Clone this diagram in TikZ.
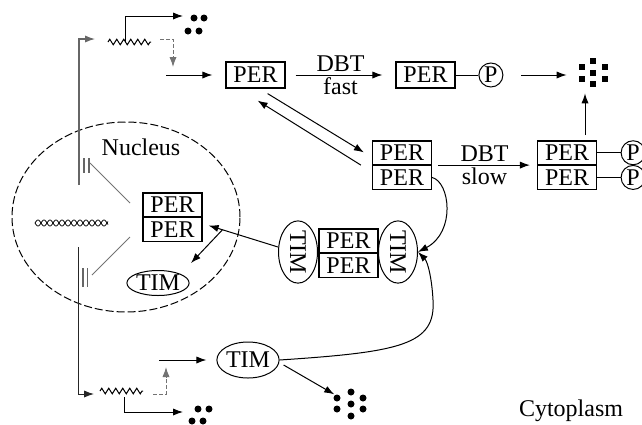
\documentclass[tikz,border=0pt]{standalone}
\usepackage{fontspec}
\setmainfont{Liberation Serif}
\usetikzlibrary{arrows.meta,shapes.geometric,decorations.pathmorphing,positioning}

\tikzset{
  arr/.style={-{Latex[length=5pt,width=3.6pt]}, line width=0.5pt},
  perbox/.style={draw, line width=0.6pt, inner sep=0pt, minimum width=29.5pt, minimum height=13pt},
  perhalf/.style={perbox, minimum height=11.75pt},
  timoval/.style={draw, ellipse, line width=0.5pt, inner sep=0pt},
  pcirc/.style={draw, circle, line width=0.5pt, inner sep=0pt, minimum size=12pt},
  gene/.style={black!60, line width=0.6pt},
  mrna/.style={decorate, decoration={zigzag, segment length=3.5pt, amplitude=1.4pt}, line width=0.5pt},
  transl/.style={black!55, dash pattern=on 2pt off 1pt, line width=0.5pt},
}

\begin{document}
\begin{tikzpicture}[x=0.5pt, y=-0.5pt, font=\fontsize{12}{14}\selectfont]
        \useasboundingbox (0,0) rectangle (642,424);

        % nucleus
            \node[draw, ellipse, dash pattern=on 4pt off 1.5pt, line width=0.5pt, inner sep=0pt,
                  minimum width=114pt, minimum height=95pt] (nucleus) at (126,217) {};
            \node (nuclabel) at (141,147) {Nucleus};
            \node (cytolabel) at (571,411) {Cytoplasm};

        % dna
            \draw[line width=0.4pt] plot[domain=35:108, samples=200] (\x,{223+3*sin(30*(\x-35))});
            \draw[line width=0.4pt] plot[domain=35:108, samples=200] (\x,{223-3*sin(30*(\x-35))});

        % per gene (top) and tim gene (bottom)
            \coordinate (gup) at (79,185);
            \coordinate (gdown) at (78,247);
            \coordinate (zt0) at (95,39);
            \coordinate (zb0) at (94,394);
            \draw[arr, gene] (gup) |- (zt0);
            \draw[arr, black!85] (gdown) |- (zb0);

        % repression by PER dimer
            \draw[gene] (84,158) -- (84,173) (89,158) -- (89,173);
            \draw[gene] (83,268) -- (83,287) (87.5,268) -- (87.5,287);
            \coordinate (rt1) at (90,163);
            \coordinate (rt2) at (130,203);
            \coordinate (rb1) at (92,275);
            \coordinate (rb2) at (130,237);
            \draw[black!55, line width=0.4pt] (rt1) -- (rt2);
            \draw[black!55, line width=0.4pt] (rb1) -- (rb2);

        % mRNAs
            \coordinate (zt1) at (108,42);
            \coordinate (zt2) at (151,42);
            \coordinate (zb1) at (100,391);
            \coordinate (zb2) at (143,391);
            \draw[mrna] (zt1) -- (zt2);
            \draw[mrna] (zb1) -- (zb2);

        % proteins
            \node[perbox] (perA) at (255.5,75) {PER};
            \node[perbox] (perB) at (425.5,75) {PER};
            \node[pcirc, right=11.4pt of perB] (pA) {P};

            \node[perhalf] (midT) at (402,152.75) {PER};
            \node[perhalf, below=0pt of midT] (midB) {PER};

            \node[perhalf] (pdT) at (567,152.75) {PER};
            \node[perhalf, below=0pt of pdT] (pdB) {PER};
            \node[pcirc, right=11.75pt of pdT] (pB) {P};
            \node[pcirc, right=11.75pt of pdB] (pC) {P};

            \node[perhalf] (cxT) at (348.5,240.75) {PER};
            \node[perhalf, below=0pt of cxT] (cxB) {PER};
            \node[timoval, rotate=-90, minimum width=29.5pt, minimum height=19.5pt] (timL) at (298,252) {TIM};
            \node[timoval, rotate=-90, minimum width=29.5pt, minimum height=19.5pt] (timR) at (398,252) {TIM};

            \node[perhalf] (nT) at (172.5,204.75) {PER};
            \node[perhalf, below=0pt of nT] (nB) {PER};
            \node[timoval, minimum width=30pt, minimum height=12.5pt] (timN) at (158,283) {TIM};

            \node[timoval, minimum width=30pt, minimum height=18pt] (timLow) at (248,360) {TIM};

        % degradation products
            \node[inner sep=0pt, minimum width=26pt, minimum height=20.5pt] (sqdeg) at (593,72.5) {};
            \node[circle, inner sep=0pt, minimum size=19pt] (cdeg) at (351,404) {};
            \foreach \x/\y in {593/61,582/67,605/67,593/72.5,582/79,605/79,593/84}
                \fill (\x-3,\y-3) rectangle (\x+3,\y+3);
            \foreach \x/\y in {351/392,337/398,363/398,351/404,337/409,363/409,351/416}
                \fill (\x,\y) circle (1.75pt);
            \foreach \x/\y in {194/18,204/18,188/31,199/31,198/409,209/409,192/421,203/421}
                \fill (\x,\y) circle (1.75pt);

        % translation and mRNA decay
            \coordinate (zt3) at (125,42);
            \coordinate (dtop) at (183,16);
            \coordinate (zt4) at (160,39);
            \coordinate (ptop) at (173,67);
            \coordinate (ts) at (166,75);
            \draw[arr] (zt3) |- (dtop);
            \draw[arr, transl] (zt4) -| (ptop);
            \draw[arr, shorten >=6.5pt] (ts) -- (perA.west);

            \coordinate (zb3) at (124,397);
            \coordinate (dbot) at (183,412);
            \coordinate (zb4) at (153,394);
            \coordinate (pbot) at (166,367);
            \coordinate (ls) at (159,360);
            \draw[arr] (zb3) |- (dbot);
            \draw[arr, transl] (zb4) -| (pbot);
            \draw[arr, shorten >=5pt] (ls) -- (timLow.west);

        % phosphorylation
            \draw[arr, shorten <=5pt, shorten >=6.5pt] (perA.east) -- node[above, inner sep=1.5pt] {DBT} node[below, inner sep=1pt] {fast} (perB.west);
            \draw[line width=0.5pt] (perB.east) -- (pA.west);
            \draw[arr, shorten <=9pt] (pA.east) -- (pA.east -| sqdeg.west);

            \draw[arr] ([shift={(-18,5)}]perA.south east) -- ([shift={(-8,12)}]midT.north west);
            \draw[arr] ([shift={(-11,0)}]midB.north west) -- ([shift={(-28,12)}]perA.south east);

            \draw[arr, shorten <=3pt, shorten >=3.5pt] (midT.south east) -- node[above, inner sep=1.5pt] {DBT} node[below, inner sep=1pt] {slow} (pdT.south west);
            \draw[line width=0.5pt] (pdT.east) -- (pB.west);
            \draw[line width=0.5pt] (pdB.east) -- (pC.west);
            \coordinate (pdup) at (585,135);
            \draw[arr] (pdup) -- (pdup |- sqdeg.south);

        % complex formation and nuclear entry
            \draw[arr] (midB.east) .. controls (450,182) and (456,232) .. (timR.north);
            \draw[arr] (timLow.east) .. controls (400,352) and (436,345) .. (433,300) .. controls (432,280) and (428,262) .. (timR.north);
            \draw[arr] ([shift={(0,-5)}]timL.south) -- coordinate[pos=0.8] (br) ([shift={(6,-4)}]nB.east);
            \draw[arr] (br) -- ([shift={(33,-20)}]timN.center);
            \draw[arr] ([shift={(4,5)}]timLow.east) -- (cdeg);
        \end{tikzpicture}
\end{document}
